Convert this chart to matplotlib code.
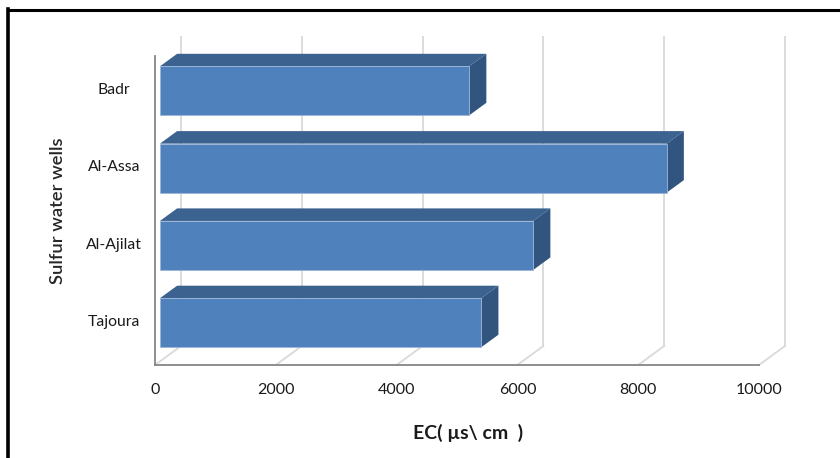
import numpy as np
import matplotlib
matplotlib.use("Agg")
import matplotlib.pyplot as plt
from matplotlib.patches import Polygon
from matplotlib.lines import Line2D
from matplotlib.transforms import ScaledTranslation

# Data
wells = ["Tajoura", "Al-Ajilat", "Al-Assa", "Badr"]
ec_values = [5320, 6180, 8390, 5120]
x_ticks = [0, 2000, 4000, 6000, 8000, 10000]
x_tick_labels = ["0", "2000", "4000", "6000", "8000", "10000"]

plt.rcParams["font.family"] = ["Lato", "DejaVu Sans"]

W, H, DPI = 840, 458, 100
fig = plt.figure(figsize=(W / DPI, H / DPI), dpi=DPI)
fig.patch.set_facecolor("white")

# front plane of the pseudo-3D plot
ax = fig.add_axes([155 / W, 93 / H, 604 / W, 309.2 / H])
ax.set_xlim(0, 10000)
ax.set_ylim(-0.5, 3.5)
for s in ax.spines.values():
    s.set_visible(False)
ax.set_facecolor("none")

# oblique depth (pixels, display coords) for the full floor depth
DX, DY = 26.0, 19.0
F_FRONT, F_BACK = 0.19, 0.85   # bar front / back as fraction of depth
BAR_H = 0.634


def at_depth(x, y, f):
    p = ax.transData.transform((x, y)) + f * np.array([DX, DY])
    return ax.transData.inverted().transform(p)


grid_c = "#d9d9d9"
axis_c = "#868686"
y0, y1 = ax.get_ylim()

# back wall gridlines and floor diagonals
for t in x_ticks:
    b0 = at_depth(t, y0, 1.0)
    b1 = at_depth(t, y1, 1.0)
    ax.plot([b0[0], b1[0]], [b0[1], b1[1]], color=grid_c, lw=1.3,
            clip_on=False, zorder=1)
    ax.plot([t, b0[0]], [y0, b0[1]], color=grid_c, lw=1.3,
            clip_on=False, zorder=1)

# axis lines (front left edge and front floor edge)
ax.plot([0, 0], [y0, y1], color=axis_c, lw=1.3, clip_on=False, zorder=2)
ax.plot([0, 10000], [y0, y0], color=axis_c, lw=1.3, clip_on=False, zorder=2)

front_c = "#4f81bd"
top_c = "#3c6390"
side_c = "#31557f"
edge_c = "#9db6d6"

for i, v in reversed(list(enumerate(ec_values))):
    lo, hi = i - BAR_H / 2, i + BAR_H / 2
    f_ll = at_depth(0, lo, F_FRONT)
    f_lr = at_depth(v, lo, F_FRONT)
    f_ur = at_depth(v, hi, F_FRONT)
    f_ul = at_depth(0, hi, F_FRONT)
    b_ul = at_depth(0, hi, F_BACK)
    b_ur = at_depth(v, hi, F_BACK)
    b_lr = at_depth(v, lo, F_BACK)
    ax.add_patch(Polygon([f_ul, f_ur, b_ur, b_ul], closed=True,
                         facecolor=top_c, edgecolor="none",
                         clip_on=False, zorder=3))
    ax.add_patch(Polygon([f_lr, f_ur, b_ur, b_lr], closed=True,
                         facecolor=side_c, edgecolor="none",
                         clip_on=False, zorder=3))
    ax.add_patch(Polygon([f_ll, f_lr, f_ur, f_ul], closed=True,
                         facecolor=front_c, edgecolor=edge_c, lw=0.6,
                         clip_on=False, zorder=4))

# ticks
ax.set_xticks(x_ticks)
ax.set_xticklabels(x_tick_labels, fontsize=11.5, color="#1a1a1a")
ax.tick_params(axis="x", length=0, pad=13)
ax.set_yticks(range(len(wells)))
ax.set_yticklabels(wells, fontsize=11.3, color="#1a1a1a")
ax.tick_params(axis="y", length=0, pad=29.5)
lift = ScaledTranslation(0, 4.5 / DPI, fig.dpi_scale_trans)
for tick in ax.yaxis.get_major_ticks():
    lab = tick.label1
    lab.set_horizontalalignment("center")
    lab.set_verticalalignment("center")
    lab.set_transform(lab.get_transform() + lift)

ax.set_xlabel("EC( \u00b5s\\ cm  )", fontsize=14, fontweight="bold",
              color="#1a1a1a")
ax.xaxis.set_label_coords(0.519, -0.221)
ax.xaxis.label.set_verticalalignment("center")
ax.set_ylabel("Sulfur water wells", fontsize=13.2, color="#262626",
              fontweight="semibold")
ax.yaxis.set_label_coords(-0.161, 0.5)
ax.yaxis.label.set_verticalalignment("center")

# chart frame (top and left edges)
fig.add_artist(Line2D([7.5 / W, 1.0], [1 - 10 / H, 1 - 10 / H],
                      transform=fig.transFigure, color="black", lw=2.2))
fig.add_artist(Line2D([7.5 / W, 7.5 / W], [1 - 9 / H, 0.0],
                      transform=fig.transFigure, color="black", lw=2.6))

fig.savefig("out.png", dpi=DPI)
